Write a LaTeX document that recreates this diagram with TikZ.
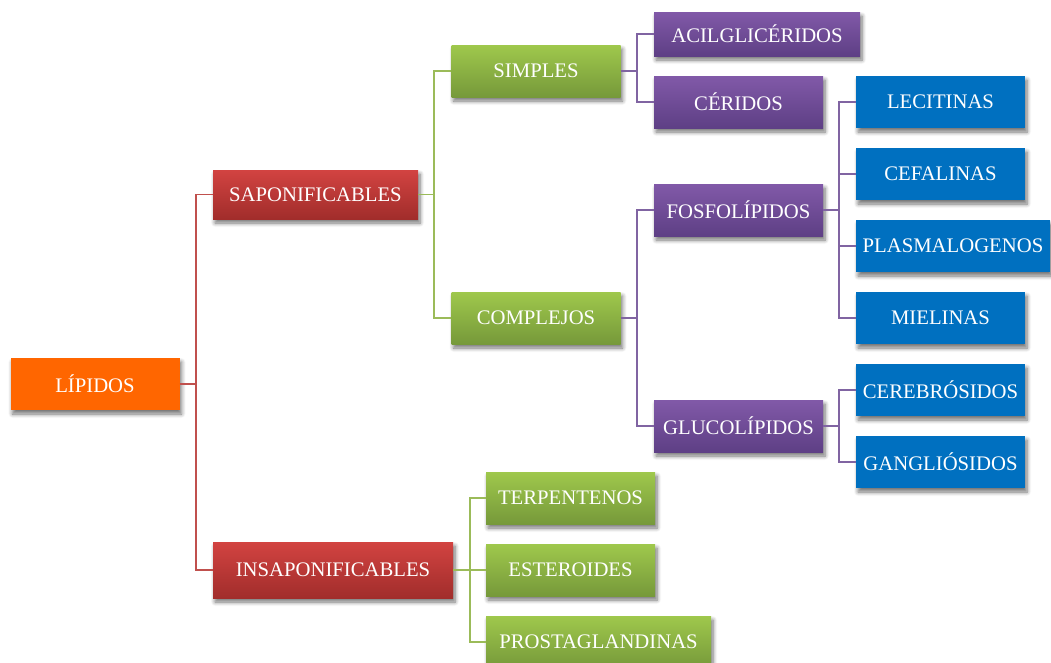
\documentclass[tikz,border=0pt]{standalone}
\usepackage{fontspec}
\setmainfont{Liberation Serif}
\usetikzlibrary{shadows.blur}

\definecolor{lipOrange}{HTML}{FF6600}
\definecolor{redTop}{HTML}{D24341}
\definecolor{redBot}{HTML}{A12D2B}
\definecolor{greenTop}{HTML}{9FC84C}
\definecolor{greenBot}{HTML}{76993A}
\definecolor{purpleTop}{HTML}{8159A8}
\definecolor{purpleBot}{HTML}{5E3F85}
\definecolor{lipBlue}{HTML}{0070C0}
\definecolor{redLine}{HTML}{C0504D}
\definecolor{greenLine}{HTML}{9BBB59}
\definecolor{purpleLine}{HTML}{8064A2}

\begin{document}
\begin{tikzpicture}[x=1pt,y=-1pt,
    box/.style={minimum width=169pt,minimum height=52pt,inner sep=0pt,text=white,
      font=\fontsize{20.7}{24}\selectfont,
      blur shadow={shadow xshift=2pt,shadow yshift=-4pt,shadow blur steps=6,shadow blur radius=4pt,shadow opacity=55}},
    orangebox/.style={box,fill=lipOrange},
    redbox/.style={box,top color=redTop,bottom color=redBot},
    greenbox/.style={box,top color=greenTop,bottom color=greenBot},
    purplebox/.style={box,top color=purpleTop,bottom color=purpleBot},
    bluebox/.style={box,fill=lipBlue},
    link/.style={line width=1.9pt}]
  \useasboundingbox (0,0) rectangle (1051,662);

  \node[orangebox] (lip) at (95,384) {LÍPIDOS};

  \node[redbox,minimum width=205pt,minimum height=49pt] (sap) at (315.5,194.5) {SAPONIFICABLES};
  \node[redbox,minimum width=240pt,minimum height=56pt] (insap) at (333,570) {INSAPONIFICABLES};

  \node[greenbox] (simp) at (536,71) {SIMPLES};
  \node[greenbox] (comp) at (536,318) {COMPLEJOS};

  \node[purplebox,minimum width=206pt,minimum height=44pt] (acil) at (757,34) {ACILGLICÉRIDOS};
  \node[purplebox] (cer) at (738.5,102) {CÉRIDOS};
  \node[purplebox] (fosf) at (738.5,210) {FOSFOLÍPIDOS};
  \node[purplebox] (gluc) at (738.5,426) {GLUCOLÍPIDOS};

  \node[bluebox] (leci) at (940.5,102) {LECITINAS};
  \node[bluebox] (cefa) at (940.5,174) {CEFALINAS};
  \node[bluebox,minimum width=194pt] (plas) at (953,246) {PLASMALOGENOS};
  \node[bluebox] (miel) at (940.5,318) {MIELINAS};
  \node[bluebox] (cere) at (940.5,390) {CEREBRÓSIDOS};
  \node[bluebox] (gang) at (940.5,462) {GANGLIÓSIDOS};

  \node[greenbox] (terp) at (570.5,498) {TERPENTENOS};
  \node[greenbox] (este) at (570.5,570) {ESTEROIDES};
  \node[greenbox,minimum width=225pt] (pros) at (598.5,642) {PROSTAGLANDINAS};

  \draw[link,redLine] (lip.east) -- ++(16,0) |- (sap.west);
  \draw[link,redLine] (lip.east) -- ++(16,0) |- (insap.west);

  \draw[link,greenLine] (sap.east) -- ++(16,0) |- (simp.west);
  \draw[link,greenLine] (sap.east) -- ++(16,0) |- (comp.west);

  \draw[link,purpleLine] (simp.east) -- ++(16,0) |- (acil.west);
  \draw[link,purpleLine] (simp.east) -- ++(16,0) |- (cer.west);
  \draw[link,purpleLine] (comp.east) -- ++(16,0) |- (fosf.west);
  \draw[link,purpleLine] (comp.east) -- ++(16,0) |- (gluc.west);

  \draw[link,purpleLine] (fosf.east) -- ++(16,0) |- (leci.west);
  \draw[link,purpleLine] (fosf.east) -- ++(16,0) |- (cefa.west);
  \draw[link,purpleLine] (fosf.east) -- ++(16,0) |- (plas.west);
  \draw[link,purpleLine] (fosf.east) -- ++(16,0) |- (miel.west);
  \draw[link,purpleLine] (gluc.east) -- ++(16,0) |- (cere.west);
  \draw[link,purpleLine] (gluc.east) -- ++(16,0) |- (gang.west);

  \draw[link,greenLine] (insap.east) -- ++(17,0) |- (terp.west);
  \draw[link,greenLine] (insap.east) -- ++(17,0) |- (este.west);
  \draw[link,greenLine] (insap.east) -- ++(17,0) |- (pros.west);
\end{tikzpicture}
\end{document}
